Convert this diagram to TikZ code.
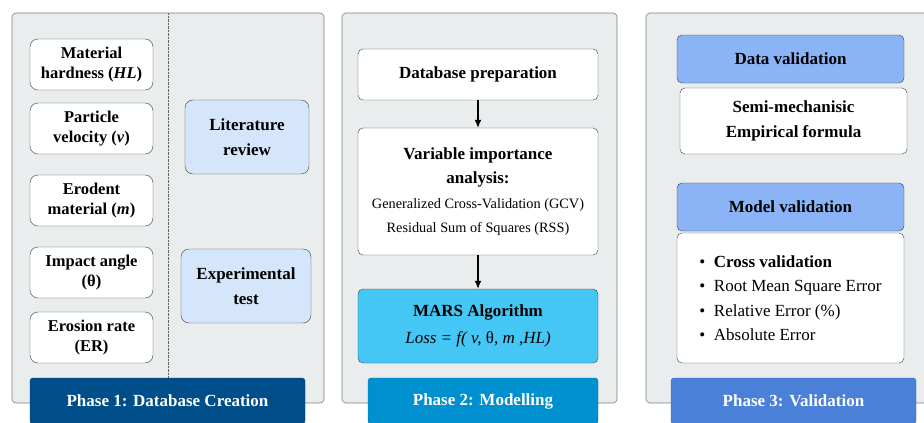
\documentclass[tikz,border=0pt]{standalone}
\usepackage{fontspec}
\setmainfont{Liberation Serif}
\usetikzlibrary{arrows.meta}
\definecolor{panelfill}{RGB}{233,237,237}
\definecolor{panelline}{RGB}{125,125,125}
\definecolor{litblue}{RGB}{214,230,250}
\definecolor{phaseone}{RGB}{0,78,137}
\definecolor{phasetwo}{RGB}{0,143,207}
\definecolor{phasethree}{RGB}{74,128,216}
\definecolor{marsblue}{RGB}{69,199,245}
\definecolor{valblue}{RGB}{139,180,247}
\def\tighttext{\fontsize{16.5}{20}\selectfont}
\def\bigtext{\fontsize{17}{24.5}\selectfont}
\def\smalltext{\fontsize{14.3}{25}\selectfont}

\begin{document}
\begin{tikzpicture}[x=1pt, y=-1pt,
	panel/.style={draw=panelline, fill=panelfill, rounded corners=4pt, line width=0.6pt},
	varbox/.style={draw=black!75, fill=white, rounded corners=8pt, align=center, font=\tighttext\bfseries, inner sep=2pt},
	srcbox/.style={varbox, fill=litblue, font=\bigtext\bfseries},
	stepbox/.style={draw=black!75, fill=white, rounded corners=5pt, align=center, font=\bigtext\bfseries, inner sep=2pt, minimum width=240pt},
	headbox/.style={draw=black!75, fill=valblue, rounded corners=5pt, font=\bigtext\bfseries, minimum width=227pt, minimum height=48pt},
	banner/.style={draw=#1!80!black, fill=#1, rounded corners=3pt, text=white, font=\bigtext\bfseries, minimum height=46pt},
	flow/.style={-{Latex[length=8pt,width=7pt]}, line width=1.2pt}]
	\useasboundingbox (0,0) rectangle (924,423);
	% panel frames
	\draw[panel] (12,13) rectangle (324,403);
	\draw[panel] (342,13) rectangle (617,403);
	\draw[panel] (646,13) rectangle (950,403);
	\coordinate (divtop) at (168,13);
	\coordinate (divbot) at (168,378);
	\draw[densely dotted, panelline!80!black] (divtop) -- (divbot);
	% phase 1
	\node[varbox, minimum width=123pt, minimum height=51pt] (hard) at (91.5,64.5) {Material\\ hardness (\textit{HL})};
	\node[varbox, minimum width=123pt, minimum height=51pt] (vel) at (91.5,128.5) {Particle\\ velocity (\textit{v})};
	\node[varbox, minimum width=123pt, minimum height=51pt] (erod) at (91.5,200.5) {Erodent\\ material (\textit{m})};
	\node[varbox, minimum width=123pt, minimum height=51pt] (angle) at (91.5,272.5) {Impact angle\\ (θ)};
	\node[varbox, minimum width=123pt, minimum height=51pt] (rate) at (91.5,337.5) {Erosion rate\\ (ER)};
	\node[srcbox, minimum width=124pt, minimum height=74pt] (lit) at (247,137) {Literature\\ review};
	\node[srcbox, minimum width=130pt, minimum height=74pt] (exp) at (246,286) {Experimental\\ test};
	\node[banner=phaseone, minimum width=275pt] (ph1) at (167.5,401) {Phase 1: Database Creation};
	% phase 2
	\node[stepbox, minimum height=51pt] (prep) at (478,74.5) {Database preparation};
	\node[stepbox, minimum height=127pt] (via) at (478,191.5) {Variable importance\\ analysis:\\
		{\smalltext\mdseries Generalized Cross-Validation (GCV)}\\
		{\smalltext\mdseries Residual Sum of Squares (RSS)}};
	\node[stepbox, fill=marsblue, minimum height=74pt] (mars) at (478,326) {MARS Algorithm\\[2pt]
		{\mdseries\itshape Loss = f( v, }{\mdseries θ}{\mdseries\itshape , m ,HL)}};
	\draw[flow] (prep) -- (via);
	\draw[flow] (via) -- (mars);
	\node[banner=phasetwo, minimum width=230pt] (ph2) at (483,401) {Phase 2: Modelling};
	% phase 3
	\node[headbox] (dval) at (790.5,59) {Data validation};
	\node[stepbox, minimum width=227pt, minimum height=66pt] (semi) at (793.5,121) {Semi-mechanisic\\ Empirical formula};
	\node[headbox] (mval) at (790.5,207) {Model validation};
	\node[stepbox, minimum width=227pt, minimum height=130pt, align=left, font=\bigtext] (errs) at (790.5,298)
		{\textbullet\enspace\textbf{Cross validation}\\
		\textbullet\enspace Root Mean Square Error\\
		\textbullet\enspace Relative Error (\%)\\
		\textbullet\enspace Absolute Error};
	\node[banner=phasethree, minimum width=245pt] (ph3) at (793.5,401) {Phase 3: Validation};
\end{tikzpicture}
\end{document}
